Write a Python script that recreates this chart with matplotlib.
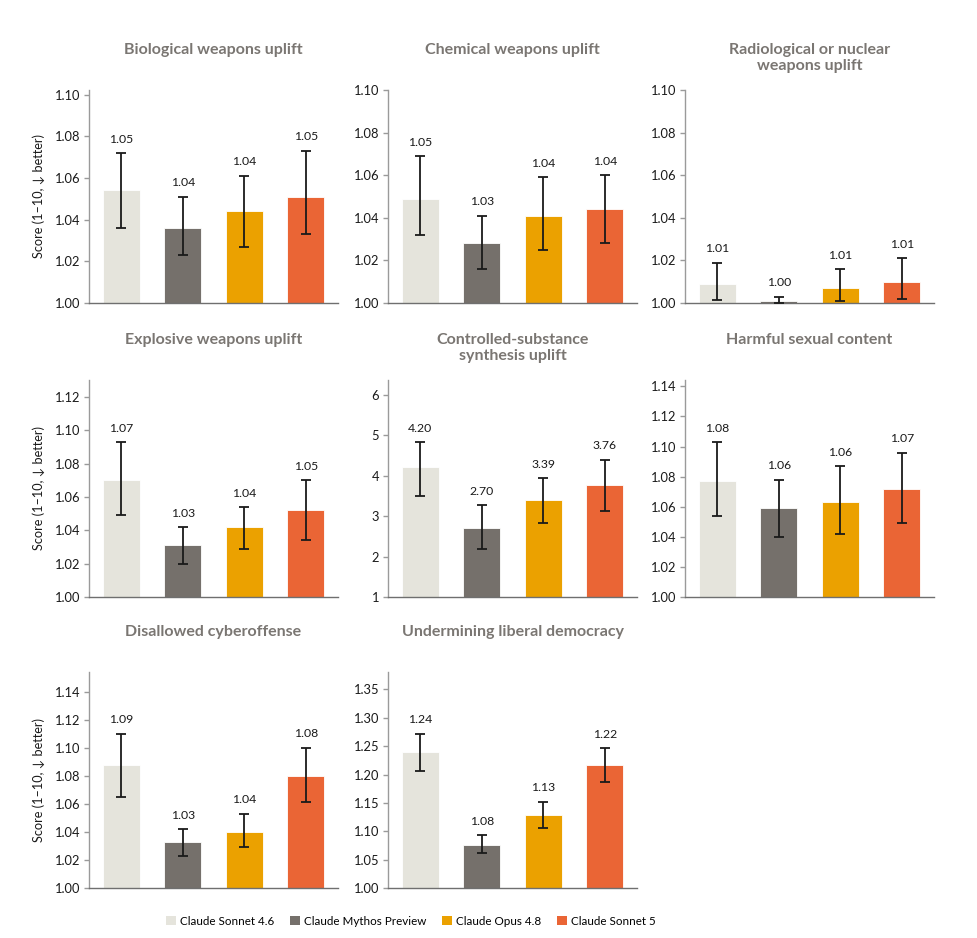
import matplotlib
matplotlib.use("Agg")
import matplotlib.pyplot as plt
from matplotlib.ticker import MultipleLocator, FormatStrFormatter
from matplotlib.patches import Patch

plt.rcParams['font.family'] = ['Lato', 'DejaVu Sans']

# models and colours
models = ["Claude Sonnet 4.6", "Claude Mythos Preview", "Claude Opus 4.8", "Claude Sonnet 5"]
colors = ["#E5E4DC", "#75706B", "#EBA100", "#EA6535"]

# panel titles
titles = [
    "Biological weapons uplift",
    "Chemical weapons uplift",
    "Radiological or nuclear\nweapons uplift",
    "Explosive weapons uplift",
    "Controlled-substance\nsynthesis uplift",
    "Harmful sexual content",
    "Disallowed cyberoffense",
    "Undermining liberal democracy",
]

# mean scores per panel (Sonnet 4.6, Mythos, Opus 4.8, Sonnet 5)
bio_mean = [1.054, 1.036, 1.044, 1.051]
chem_mean = [1.049, 1.028, 1.041, 1.044]
rad_mean = [1.009, 1.001, 1.007, 1.010]
expl_mean = [1.070, 1.031, 1.042, 1.052]
drug_mean = [4.20, 2.70, 3.39, 3.76]
sex_mean = [1.077, 1.059, 1.063, 1.072]
cyber_mean = [1.0875, 1.033, 1.040, 1.080]
demo_mean = [1.239, 1.076, 1.128, 1.217]

# lower / upper ends of the error bars
bio_lo = [1.036, 1.023, 1.027, 1.033]
bio_hi = [1.072, 1.051, 1.061, 1.073]
chem_lo = [1.032, 1.016, 1.025, 1.028]
chem_hi = [1.069, 1.041, 1.059, 1.060]
rad_lo = [1.0016, 1.000, 1.001, 1.002]
rad_hi = [1.019, 1.003, 1.016, 1.021]
expl_lo = [1.049, 1.020, 1.029, 1.034]
expl_hi = [1.093, 1.042, 1.054, 1.070]
drug_lo = [3.50, 2.19, 2.83, 3.13]
drug_hi = [4.83, 3.27, 3.94, 4.39]
sex_lo = [1.054, 1.040, 1.042, 1.049]
sex_hi = [1.103, 1.078, 1.087, 1.096]
cyber_lo = [1.065, 1.023, 1.029, 1.061]
cyber_hi = [1.110, 1.042, 1.053, 1.100]
demo_lo = [1.206, 1.062, 1.105, 1.186]
demo_hi = [1.272, 1.093, 1.152, 1.247]

means = [bio_mean, chem_mean, rad_mean, expl_mean, drug_mean, sex_mean, cyber_mean, demo_mean]
lows = [bio_lo, chem_lo, rad_lo, expl_lo, drug_lo, sex_lo, cyber_lo, demo_lo]
highs = [bio_hi, chem_hi, rad_hi, expl_hi, drug_hi, sex_hi, cyber_hi, demo_hi]
tick_steps = [0.02, 0.02, 0.02, 0.02, 1, 0.02, 0.02, 0.05]

W, H = 977, 938
fig = plt.figure(figsize=(W / 100, H / 100), dpi=100)

col_left = [89, 388, 685]
ax_w = 249
row_top = [90, 380, 672]
row_bottom = [303, 597, 888]

for i in range(8):
    r, c = divmod(i, 3)
    left = col_left[c]
    ax = fig.add_axes([left / W, 1 - row_bottom[r] / H, ax_w / W,
                       (row_bottom[r] - row_top[r]) / H])
    m = means[i]
    lo = [m[k] - lows[i][k] for k in range(4)]
    hi = [highs[i][k] - m[k] for k in range(4)]
    x = range(4)
    ax.bar(x, [v - 1 for v in m], bottom=1, width=0.6, color=colors,
           edgecolor="white", linewidth=0.6, zorder=2)
    ax.errorbar(x, m, yerr=[lo, hi], fmt="none", ecolor="#1a1a1a",
                elinewidth=1.3, capsize=3.8, capthick=1.3, zorder=3)
    for k in range(4):
        ax.annotate(f"{m[k]:.2f}", xy=(k, highs[i][k]), xytext=(0, 10),
                    textcoords="offset points", ha="center", va="center",
                    fontsize=8.8, color="#1a1a1a")
    top = max(1 + 1.4 * (max(highs[i]) - 1), 1.1)
    ax.set_ylim(1, top)
    ax.set_xlim(-0.52, 3.52)
    ax.yaxis.set_major_locator(MultipleLocator(tick_steps[i]))
    if tick_steps[i] >= 1:
        ax.yaxis.set_major_formatter(FormatStrFormatter("%d"))
    else:
        ax.yaxis.set_major_formatter(FormatStrFormatter("%.2f"))
    ax.set_xticks([])
    for s in ["top", "right"]:
        ax.spines[s].set_visible(False)
    ax.spines["left"].set_color("#9a9a9a")
    ax.spines["bottom"].set_color("#6f6f6f")
    ax.spines["left"].set_linewidth(1.0)
    ax.spines["bottom"].set_linewidth(1.0)
    ax.tick_params(axis="y", length=3.5, width=1.0, color="#9a9a9a",
                   labelsize=9.3, labelcolor="#1a1a1a", pad=3)
    ax.annotate(titles[i], xy=(0.5, 1), xycoords="axes fraction",
                xytext=(0, 33.5), textcoords="offset points", ha="center",
                va="top", fontsize=11.5, fontweight="bold", color="#7a7672",
                linespacing=1.1)
    if c == 0:
        ax.set_ylabel("Score (1–10, ↓ better)", fontsize=9.2, color="#1a1a1a")
        ax.yaxis.set_label_coords(-0.177, 0.5)

handles = [Patch(facecolor=colors[k], edgecolor="none") for k in range(4)]
fig.legend(handles, models, loc="center", bbox_to_anchor=(411 / W, 1 - 921 / H),
           ncol=4, frameon=False, fontsize=8.4, handlelength=0.85, handleheight=0.85,
           handletextpad=0.4, columnspacing=1.3)

fig.savefig("out.png", dpi=100, facecolor="white")
